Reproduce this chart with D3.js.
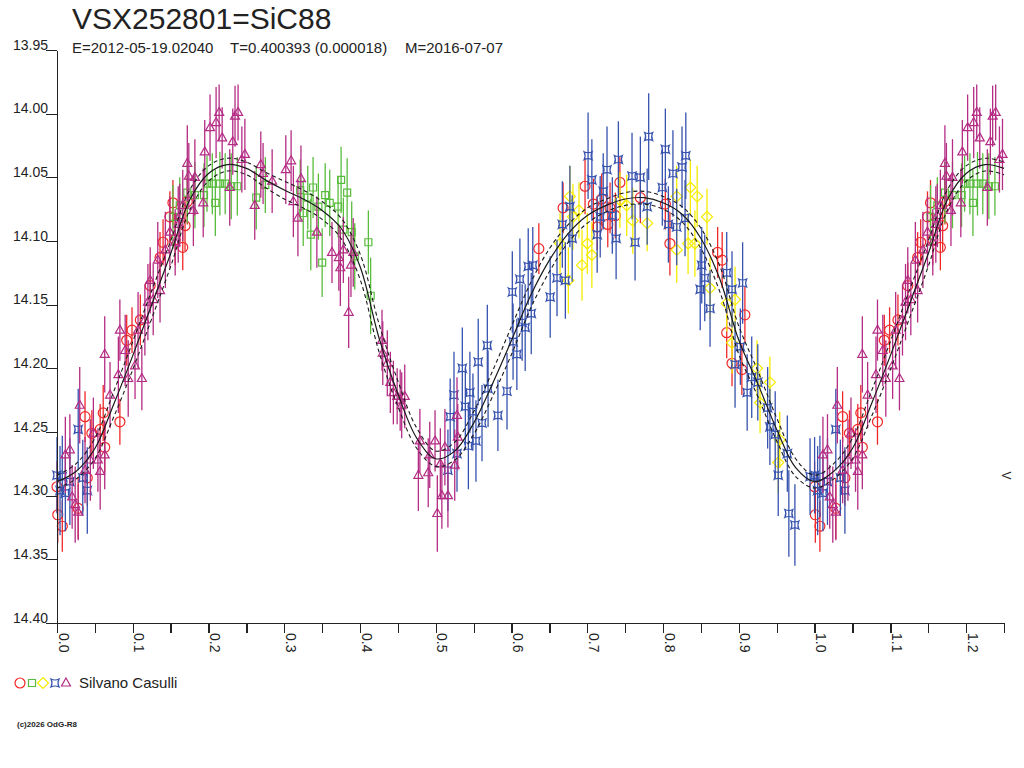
<!DOCTYPE html>
<html>
<head>
<meta charset="utf-8">
<script src="https://cdnjs.cloudflare.com/ajax/libs/d3/7.8.5/d3.min.js"></script>
<style>
  body { margin: 0; background: #fff; }
  text { font-family: "Liberation Sans", Arial, sans-serif; fill: #222; }
</style>
</head>
<body>
<div id="chart"></div>
<script>
// chart texts
var title = "VSX252801=SiC88";
var subtitle = ["E=2012-05-19.02040", "T=0.400393 (0.000018)", "M=2016-07-07"];
var observer = "Silvano Casulli";
var credit = "(c)2026 OdG-R8";
var bandLabel = "V";

// ticks
var yTicks = [13.95, 14.00, 14.05, 14.10, 14.15, 14.20, 14.25, 14.30, 14.35, 14.40];
var xTicks = [0, 0.05, 0.1, 0.15, 0.2, 0.25, 0.3, 0.35, 0.4, 0.45, 0.5, 0.55, 0.6,
              0.65, 0.7, 0.75, 0.8, 0.85, 0.9, 0.95, 1.0, 1.05, 1.1, 1.15, 1.2, 1.25];

// fitted light curve (phase, mag, envelope half width)
var curvePhase = [0, 0.025, 0.05, 0.075, 0.1, 0.125, 0.15, 0.175, 0.2, 0.225, 0.25, 0.275, 0.3,
                  0.325, 0.35, 0.375, 0.4, 0.425, 0.45, 0.475, 0.5, 0.525, 0.55, 0.575, 0.6,
                  0.625, 0.65, 0.675, 0.7, 0.725, 0.75, 0.775, 0.8, 0.825, 0.85, 0.875, 0.9,
                  0.925, 0.95, 0.975, 1.0];
var curveMag = [14.289, 14.281, 14.263, 14.228, 14.190, 14.150, 14.110, 14.068, 14.047, 14.040,
                14.043, 14.052, 14.060, 14.067, 14.076, 14.090, 14.120, 14.176, 14.220, 14.255,
                14.271, 14.265, 14.243, 14.212, 14.178, 14.143, 14.115, 14.094, 14.080, 14.072,
                14.067, 14.066, 14.070, 14.079, 14.098, 14.130, 14.178, 14.212, 14.248, 14.278,
                14.289];
var curveErr = [0.005, 0.006, 0.008, 0.010, 0.011, 0.011, 0.010, 0.008, 0.006, 0.005,
                0.005, 0.006, 0.007, 0.007, 0.007, 0.008, 0.010, 0.011, 0.010, 0.008,
                0.006, 0.007, 0.009, 0.010, 0.011, 0.010, 0.009, 0.007, 0.006, 0.005,
                0.005, 0.005, 0.005, 0.006, 0.008, 0.010, 0.011, 0.010, 0.009, 0.007,
                0.005];

// observations [phase, mag, error]
var redObs = [[0.000,14.293,0.020],[0.001,14.315,0.022],[0.007,14.324,0.020],[0.028,14.310,0.024],
  [0.037,14.238,0.020],[0.040,14.286,0.022],[0.046,14.251,0.018],[0.057,14.248,0.020],
  [0.061,14.235,0.022],[0.063,14.262,0.020],[0.083,14.242,0.018],[0.092,14.178,0.020],
  [0.099,14.170,0.018],[0.110,14.162,0.020],[0.123,14.135,0.018],[0.136,14.113,0.020],
  [0.140,14.101,0.018],[0.149,14.081,0.020],[0.153,14.070,0.018],[0.156,14.099,0.020],
  [0.166,14.105,0.018],[0.169,14.088,0.020],[0.172,14.069,0.018],[0.636,14.106,0.020],
  [0.668,14.074,0.020],[0.697,14.057,0.022],[0.708,14.071,0.020],[0.713,14.089,0.018],
  [0.719,14.067,0.020],[0.727,14.087,0.018],[0.730,14.074,0.020],[0.737,14.080,0.018],
  [0.743,14.054,0.020],[0.770,14.066,0.020],[0.803,14.071,0.020],[0.809,14.102,0.025],
  [0.872,14.109,0.020],[0.878,14.115,0.022],[0.884,14.172,0.020],[0.891,14.196,0.018],
  [0.904,14.201,0.020],[0.908,14.158,0.022]];

var greenObs = [[0.153,14.081,0.025],[0.162,14.072,0.022],[0.172,14.062,0.024],[0.182,14.064,0.026],
  [0.194,14.064,0.025],[0.198,14.055,0.022],[0.205,14.055,0.024],[0.209,14.070,0.026],
  [0.215,14.055,0.025],[0.222,14.055,0.024],[0.230,14.057,0.026],[0.238,14.057,0.023],
  [0.263,14.066,0.025],[0.275,14.056,0.022],[0.321,14.060,0.024],[0.325,14.078,0.026],
  [0.331,14.066,0.025],[0.335,14.095,0.028],[0.338,14.058,0.024],[0.345,14.073,0.026],
  [0.350,14.117,0.027],[0.354,14.064,0.025],[0.360,14.070,0.026],[0.371,14.073,0.024],
  [0.375,14.052,0.026],[0.378,14.091,0.025],[0.383,14.062,0.027],[0.389,14.093,0.024],
  [0.393,14.112,0.026],[0.411,14.101,0.025],[0.414,14.143,0.030]];

var yellowObs = [[0.664,14.102,0.024],[0.675,14.131,0.026],[0.677,14.065,0.024],[0.681,14.081,0.026],
  [0.689,14.076,0.022],[0.693,14.119,0.028],[0.700,14.102,0.024],[0.706,14.111,0.026],
  [0.743,14.068,0.022],[0.752,14.072,0.024],[0.760,14.084,0.026],[0.779,14.086,0.022],
  [0.818,14.065,0.024],[0.818,14.107,0.026],[0.833,14.102,0.024],[0.836,14.058,0.022],
  [0.842,14.102,0.026],[0.845,14.065,0.024],[0.858,14.081,0.022],[0.862,14.137,0.024],
  [0.884,14.149,0.022],[0.891,14.180,0.024],[0.895,14.146,0.026],[0.924,14.200,0.022],
  [0.928,14.227,0.024],[0.941,14.211,0.020],[0.952,14.274,0.024],[0.954,14.256,0.022]];

var blueObs = [[0.000,14.284,0.030],[0.004,14.296,0.035],[0.007,14.285,0.032],[0.011,14.298,0.030],
  [0.017,14.289,0.034],[0.028,14.248,0.032],[0.034,14.286,0.030],[0.040,14.296,0.034],
  [0.516,14.280,0.032],[0.519,14.238,0.030],[0.524,14.221,0.034],[0.528,14.267,0.030],
  [0.535,14.200,0.032],[0.539,14.230,0.030],[0.543,14.261,0.034],[0.545,14.219,0.032],
  [0.549,14.234,0.030],[0.553,14.257,0.032],[0.556,14.195,0.034],[0.561,14.243,0.030],
  [0.568,14.182,0.032],[0.569,14.216,0.030],[0.582,14.237,0.028],[0.594,14.218,0.030],
  [0.601,14.140,0.032],[0.602,14.179,0.030],[0.607,14.189,0.028],[0.611,14.130,0.032],
  [0.614,14.164,0.030],[0.618,14.168,0.034],[0.622,14.120,0.030],[0.626,14.157,0.032],
  [0.628,14.119,0.030],[0.651,14.144,0.032],[0.660,14.129,0.030],[0.667,14.087,0.034],
  [0.671,14.131,0.030],[0.677,14.073,0.032],[0.680,14.098,0.034],[0.701,14.033,0.034],
  [0.706,14.052,0.032],[0.713,14.095,0.030],[0.717,14.081,0.032],[0.721,14.061,0.030],
  [0.726,14.044,0.034],[0.733,14.080,0.030],[0.738,14.098,0.032],[0.741,14.036,0.030],
  [0.759,14.049,0.034],[0.763,14.101,0.030],[0.770,14.050,0.032],[0.779,14.073,0.030],
  [0.781,14.018,0.034],[0.799,14.058,0.030],[0.803,14.028,0.032],[0.807,14.087,0.030],
  [0.813,14.047,0.034],[0.818,14.089,0.030],[0.825,14.042,0.032],[0.829,14.082,0.030],
  [0.830,14.033,0.034],[0.849,14.138,0.032],[0.851,14.119,0.030],[0.855,14.129,0.034],
  [0.862,14.153,0.030],[0.884,14.125,0.032],[0.891,14.138,0.030],[0.895,14.197,0.034],
  [0.902,14.183,0.030],[0.905,14.133,0.032],[0.911,14.219,0.030],[0.917,14.207,0.032],
  [0.925,14.211,0.030],[0.938,14.231,0.032],[0.941,14.246,0.030],[0.948,14.252,0.034],
  [0.952,14.284,0.032],[0.964,14.267,0.030],[0.966,14.314,0.034],[0.974,14.323,0.032],
  [0.994,14.285,0.030]];

var purpleObs = [[0.011,14.268,0.030],[0.017,14.264,0.028],[0.020,14.301,0.025],[0.024,14.307,0.030],
  [0.028,14.313,0.022],[0.030,14.229,0.030],[0.037,14.280,0.026],[0.044,14.272,0.032],
  [0.048,14.251,0.028],[0.054,14.272,0.025],[0.057,14.281,0.030],[0.063,14.268,0.027],
  [0.063,14.189,0.030],[0.070,14.221,0.026],[0.081,14.205,0.030],[0.083,14.170,0.024],
  [0.090,14.186,0.028],[0.094,14.208,0.030],[0.103,14.198,0.026],[0.107,14.170,0.030],
  [0.112,14.208,0.025],[0.116,14.162,0.028],[0.120,14.148,0.030],[0.123,14.131,0.026],
  [0.127,14.146,0.028],[0.133,14.115,0.030],[0.136,14.139,0.025],[0.143,14.107,0.030],
  [0.149,14.093,0.028],[0.156,14.101,0.026],[0.160,14.087,0.030],[0.162,14.080,0.025],
  [0.166,14.072,0.028],[0.172,14.039,0.030],[0.174,14.049,0.026],[0.180,14.076,0.028],
  [0.182,14.050,0.030],[0.193,14.070,0.027],[0.195,14.030,0.025],[0.202,14.011,0.026],
  [0.210,14.007,0.028],[0.214,13.999,0.022],[0.218,14.019,0.024],[0.228,14.058,0.030],
  [0.232,14.022,0.026],[0.235,14.002,0.024],[0.239,13.999,0.022],[0.244,14.036,0.026],
  [0.248,14.032,0.028],[0.261,14.072,0.027],[0.269,14.040,0.026],[0.272,14.047,0.024],
  [0.284,14.053,0.025],[0.302,14.044,0.027],[0.309,14.037,0.024],[0.312,14.069,0.028],
  [0.318,14.082,0.030],[0.322,14.051,0.026],[0.343,14.093,0.028],[0.363,14.109,0.024],
  [0.372,14.113,0.026],[0.374,14.121,0.030],[0.378,14.107,0.026],[0.385,14.156,0.028],
  [0.388,14.119,0.025],[0.391,14.109,0.027],[0.429,14.178,0.024],[0.430,14.188,0.025],
  [0.436,14.196,0.026],[0.440,14.211,0.024],[0.444,14.219,0.025],[0.449,14.222,0.022],
  [0.453,14.225,0.024],[0.455,14.229,0.026],[0.459,14.222,0.025],[0.477,14.284,0.028],
  [0.479,14.257,0.025],[0.490,14.282,0.027],[0.492,14.268,0.026],[0.499,14.257,0.024],
  [0.502,14.314,0.030],[0.506,14.275,0.028],[0.508,14.300,0.026],[0.512,14.262,0.030],
  [0.516,14.300,0.025],[0.525,14.276,0.028],[0.528,14.237,0.030],[0.529,14.254,0.026]];

// phases below this are repeated one cycle later
var phaseMax = 1.25;

var width = 1024,
    height = 768,
    plotLeft = 57,
    plotRight = 1004,
    plotTop = 50,
    plotBottom = 623;

var x = d3.scaleLinear().domain([0, phaseMax]).range([plotLeft, plotRight]);
var y = d3.scaleLinear().domain([13.95, 14.40]).range([plotTop, plotBottom]);

var svg = d3.select("#chart").append("svg")
    .attr("width", width)
    .attr("height", height);

// marker shapes
var symbols = {
  circle: "M5,0A5,5 0 1,1 -5,0A5,5 0 1,1 5,0Z",
  square: "M-3.5,-3.5H3.5V3.5H-3.5Z",
  diamond: "M0,-5.5L5.5,0L0,5.5L-5.5,0Z",
  star: "M-4,-4Q0,-2 4,-4Q2,0 4,4Q0,2 -4,4Q-2,0 -4,-4Z",
  triangle: "M0,-5L4.5,3H-4.5Z"
};

var series = [
  {data: redObs, color: "#f02828", shape: "circle"},
  {data: greenObs, color: "#58bc3c", shape: "square"},
  {data: yellowObs, color: "#f6ec00", shape: "diamond"},
  {data: blueObs, color: "#3652ae", shape: "star"},
  {data: purpleObs, color: "#b42c84", shape: "triangle"}
];

function unfold(arr) {
  var out = arr.slice();
  arr.forEach(function(d) {
    if (d[0] + 1 <= phaseMax) out.push([d[0] + 1, d[1], d[2]]);
  });
  return out;
}

// observations
series.forEach(function(s) {
  var g = svg.append("g");
  var pts = unfold(s.data);
  g.selectAll("line").data(pts).enter().append("line")
    .attr("x1", function(d) { return x(d[0]); })
    .attr("x2", function(d) { return x(d[0]); })
    .attr("y1", function(d) { return y(d[1] - d[2]); })
    .attr("y2", function(d) { return y(d[1] + d[2]); })
    .style("stroke", s.color)
    .style("stroke-width", 1.3);
  g.selectAll("path").data(pts).enter().append("path")
    .attr("d", symbols[s.shape])
    .attr("transform", function(d) { return "translate(" + x(d[0]) + "," + y(d[1]) + ")"; })
    .style("fill", "none")
    .style("stroke", s.color)
    .style("stroke-width", 1.2);
});

// fitted curve and its envelope
var curve = [];
curvePhase.forEach(function(p, i) {
  curve.push({p: p, m: curveMag[i], e: curveErr[i]});
});
curvePhase.forEach(function(p, i) {
  if (p > 0 && p + 1 <= phaseMax) curve.push({p: p + 1, m: curveMag[i], e: curveErr[i]});
});

var line = function(off) {
  return d3.line()
    .x(function(d) { return x(d.p); })
    .y(function(d) { return y(d.m + off * d.e); })
    .curve(d3.curveCatmullRom);
};

svg.append("path").datum(curve).attr("d", line(0))
  .style("fill", "none").style("stroke", "#1a1a1a").style("stroke-width", 1.2);
[-1, 1].forEach(function(o) {
  svg.append("path").datum(curve).attr("d", line(o))
    .style("fill", "none").style("stroke", "#1a1a1a").style("stroke-width", 1.1)
    .style("stroke-dasharray", "4,3");
});

// axes
var yAxis = d3.axisLeft(y).tickValues(yTicks).tickSize(11).tickSizeOuter(0)
  .tickFormat(function(d) { return d.toFixed(2); });
var gy = svg.append("g").attr("transform", "translate(" + plotLeft + ",0)").call(yAxis);
gy.selectAll("text").attr("x", -9).attr("y", -1).attr("dy", null)
  .style("font-size", "14px").style("fill", "#222");

var xAxis = d3.axisBottom(x).tickValues(xTicks).tickSize(10).tickSizeOuter(0)
  .tickFormat(function(d) { return Math.round(d * 100) % 10 === 0 ? d.toFixed(1) : ""; });
var gx = svg.append("g").attr("transform", "translate(0," + plotBottom + ")").call(xAxis);
gx.selectAll("text")
  .attr("x", null).attr("y", null).attr("dy", null)
  .attr("transform", "translate(1,10) rotate(90)")
  .attr("text-anchor", "start")
  .style("font-size", "14px").style("fill", "#222");

svg.selectAll(".domain, .tick line")
  .style("stroke", "#222").style("stroke-width", 1.3).style("shape-rendering", "crispEdges");
svg.selectAll(".tick text").style("font-family", "'Liberation Sans', Arial, sans-serif");

// band label at right edge
svg.append("text")
  .attr("transform", "translate(1002," + y(14.281) + ") rotate(90)")
  .style("font-size", "12px")
  .text(bandLabel);

// titles
svg.append("text").attr("x", 72).attr("y", 29)
  .style("font-size", "30px").text(title);
var subX = [72, 230, 405];
subtitle.forEach(function(t, i) {
  svg.append("text").attr("x", subX[i]).attr("y", 53)
    .style("font-size", "15px").text(t);
});

// legend
var legX = [20, 32, 43, 55, 66];
series.forEach(function(s, i) {
  svg.append("path")
    .attr("d", symbols[s.shape])
    .attr("transform", "translate(" + legX[i] + ",683)")
    .style("fill", "none").style("stroke", s.color).style("stroke-width", 1.2);
});
svg.append("text").attr("x", 79).attr("y", 688)
  .style("font-size", "15px").text(observer);

svg.append("text").attr("x", 17).attr("y", 727)
  .style("font-size", "8px").style("font-weight", "bold").text(credit);
</script>
</body>
</html>
